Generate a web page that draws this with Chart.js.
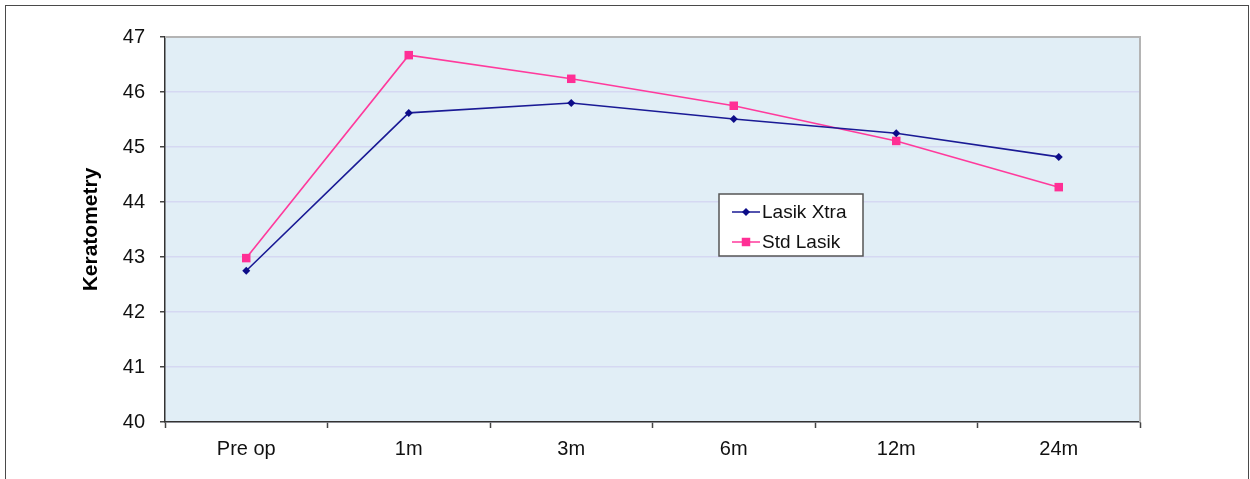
<!DOCTYPE html>
<html><head><meta charset="utf-8">
<script src="https://cdn.jsdelivr.net/npm/chart.js@4/dist/chart.umd.min.js"></script>
<style>
html,body{margin:0;padding:0;background:#fff;overflow:hidden;}
#wrap{position:relative;width:1250px;height:479px;}
#frame{position:absolute;left:5px;top:5px;width:1244px;height:490px;border:1.5px solid #4a4a4a;border-bottom:none;box-sizing:border-box;}
canvas{position:absolute;left:0;top:0;}
</style></head><body>
<div id="wrap"><div id="frame"></div><canvas id="c" width="1250" height="479"></canvas></div>
<script>
const categories = ['Pre op', '1m', '3m', '6m', '12m', '24m'];
const lasikXtra = [42.75, 45.62, 45.80, 45.51, 45.25, 44.82];
const stdLasik = [42.98, 46.67, 46.24, 45.75, 45.11, 44.27];
const seriesNames = ['Lasik Xtra', 'Std Lasik'];
const yMin = 40, yMax = 47, yStep = 1;
const axisTitle = 'Keratometry';

const FONT = "'Liberation Sans', Arial, sans-serif";
const BLUE = '#1a1a95', PINK = '#ff3a9c';

const plotBg = {
  id: 'plotBg',
  beforeDraw(chart) {
    const {ctx, chartArea: a} = chart;
    ctx.save();
    ctx.fillStyle = '#e1eef6';
    ctx.fillRect(a.left, a.top, a.right - a.left, a.bottom - a.top);
    ctx.restore();
  },
  beforeDatasetsDraw(chart) {
    const {ctx, chartArea: a} = chart;
    ctx.save();
    ctx.strokeStyle = '#b4b4b4';
    ctx.lineWidth = 2;
    ctx.beginPath();
    ctx.moveTo(a.left, a.top);
    ctx.lineTo(a.right, a.top);
    ctx.lineTo(a.right, a.bottom);
    ctx.stroke();
    ctx.restore();
  }
};

const boxLegend = {
  id: 'boxLegend',
  afterDraw(chart) {
    const {ctx} = chart;
    const x0 = 719, y0 = 194, w = 144, h = 62;
    ctx.save();
    ctx.fillStyle = '#ffffff';
    ctx.fillRect(x0, y0, w, h);
    ctx.strokeStyle = '#555';
    ctx.lineWidth = 1.5;
    ctx.strokeRect(x0, y0, w, h);
    ctx.font = '19px ' + FONT;
    ctx.textBaseline = 'middle';
    chart.data.datasets.forEach((ds, i) => {
      const cy = y0 + 18 + i * 30;
      ctx.strokeStyle = ds.borderColor;
      ctx.lineWidth = 1.5;
      ctx.beginPath();
      ctx.moveTo(x0 + 13, cy);
      ctx.lineTo(x0 + 41, cy);
      ctx.stroke();
      ctx.fillStyle = ds.pointBackgroundColor;
      ctx.beginPath();
      if (ds.pointStyle === 'rect') {
        const s = ds.pointRadius * Math.SQRT1_2;
        ctx.rect(x0 + 27 - s, cy - s, 2 * s, 2 * s);
      } else {
        const r = ds.pointRadius;
        ctx.moveTo(x0 + 27, cy - r);
        ctx.lineTo(x0 + 27 + r, cy);
        ctx.lineTo(x0 + 27, cy + r);
        ctx.lineTo(x0 + 27 - r, cy);
        ctx.closePath();
      }
      ctx.fill();
      ctx.fillStyle = '#111';
      ctx.fillText(ds.label, x0 + 43, cy + 1);
    });
    ctx.restore();
  }
};

new Chart(document.getElementById('c'), {
  type: 'line',
  data: {
    labels: categories,
    datasets: [
      {label: seriesNames[0], data: lasikXtra, borderColor: BLUE, backgroundColor: BLUE,
       pointBackgroundColor: '#0c0c88', pointBorderColor: '#0c0c88', pointStyle: 'rectRot', pointRadius: 4, pointBorderWidth: 0,
       borderWidth: 1.6, tension: 0},
      {label: seriesNames[1], data: stdLasik, borderColor: PINK, backgroundColor: PINK,
       pointBackgroundColor: '#ff2f95', pointBorderColor: '#ff2f95', pointStyle: 'rect', pointRadius: 6, pointBorderWidth: 0,
       borderWidth: 1.6, tension: 0}
    ]
  },
  options: {
    responsive: false,
    animation: false,
    events: [],
    layout: {padding: {left: 0, top: 37, right: 110, bottom: 0}},
    plugins: {legend: {display: false}, tooltip: {enabled: false}},
    scales: {
      x: {
        offset: true,
        grid: {display: true, drawOnChartArea: false, drawTicks: true, tickLength: 6, tickColor: '#444', tickWidth: 1.5, offset: true},
        border: {display: true, color: '#333', width: 1.5},
        ticks: {font: {family: FONT, size: 20}, color: '#111', padding: 9, maxRotation: 0},
        afterFit(s) { s.height = 57; }
      },
      y: {
        min: yMin, max: yMax,
        grid: {color: '#d5d8f2', lineWidth: 1.5, tickLength: 5, tickColor: '#444', tickWidth: 1.5},
        border: {display: true, color: '#333', width: 1.5},
        ticks: {stepSize: yStep, font: {family: FONT, size: 20}, color: '#111', padding: 15},
        title: {display: true, text: axisTitle, font: {family: FONT, size: 21, weight: 'bold'}, color: '#000', padding: {top: 79, bottom: 0}},
        afterFit(s) { s.width = 165; }
      }
    }
  },
  plugins: [plotBg, boxLegend]
});
</script>
</body></html>
